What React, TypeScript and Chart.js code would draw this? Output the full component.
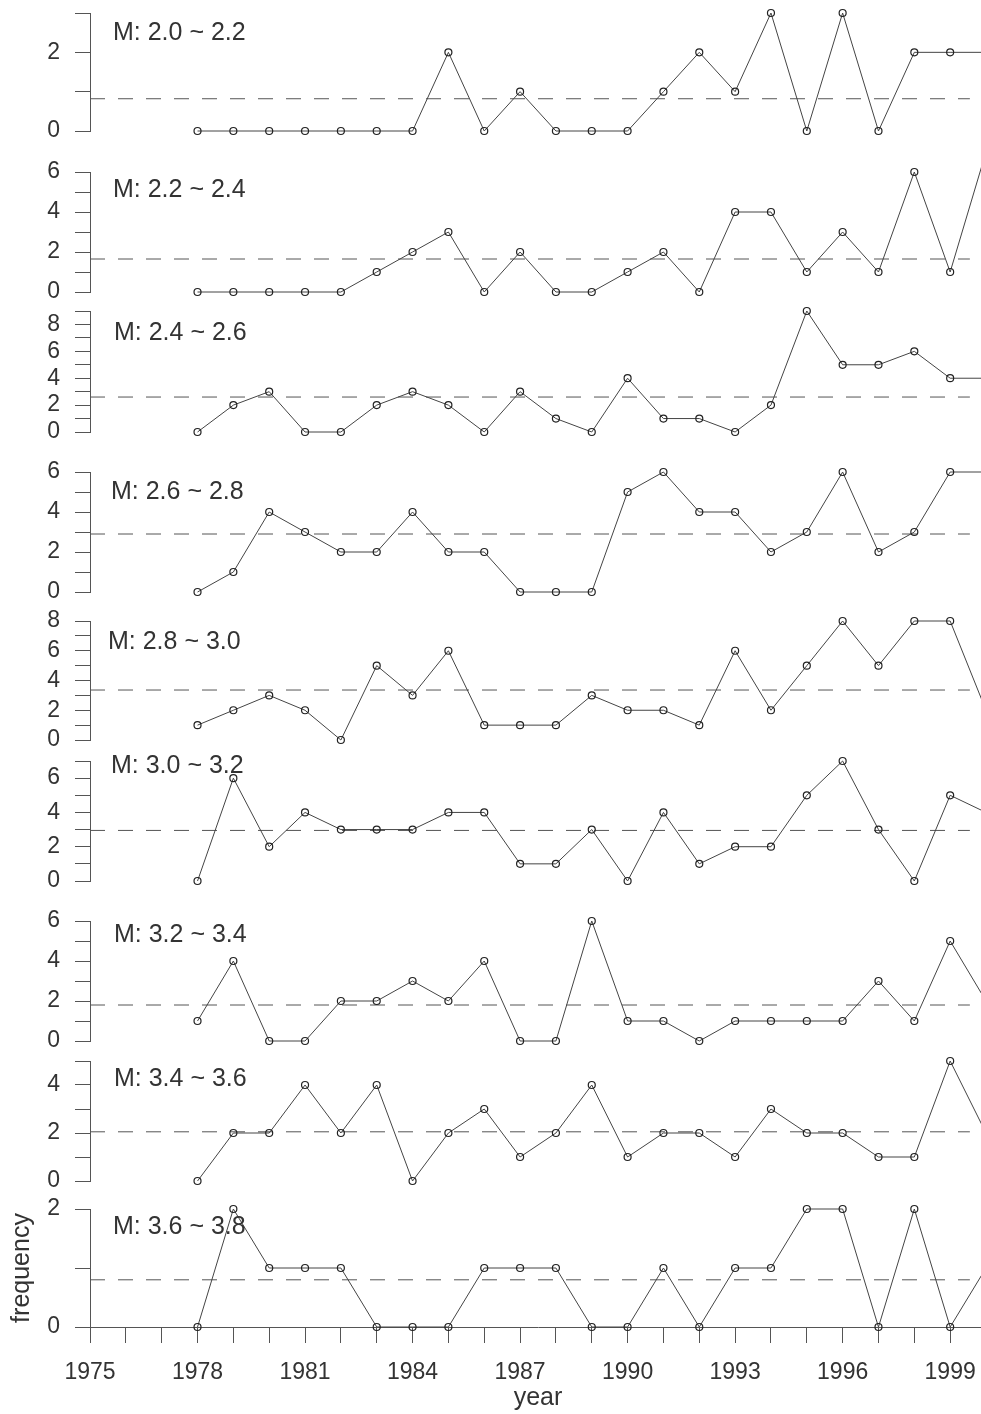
import React, { useEffect, useRef } from 'react';
import { Chart, registerables } from 'chart.js';

Chart.register(...registerables);

// ---------- data ----------
const YEARS = [1978, 1979, 1980, 1981, 1982, 1983, 1984, 1985, 1986, 1987, 1988, 1989, 1990, 1991, 1992, 1993, 1994, 1995, 1996, 1997, 1998, 1999, 2000];

const PANEL_LABELS = ['M: 2.0 ~ 2.2', 'M: 2.2 ~ 2.4', 'M: 2.4 ~ 2.6', 'M: 2.6 ~ 2.8', 'M: 2.8 ~ 3.0', 'M: 3.0 ~ 3.2', 'M: 3.2 ~ 3.4', 'M: 3.4 ~ 3.6', 'M: 3.6 ~ 3.8'];

const FREQ_M20_22 = [0, 0, 0, 0, 0, 0, 0, 2, 0, 1, 0, 0, 0, 1, 2, 1, 3, 0, 3, 0, 2, 2, 2];
const FREQ_M22_24 = [0, 0, 0, 0, 0, 1, 2, 3, 0, 2, 0, 0, 1, 2, 0, 4, 4, 1, 3, 1, 6, 1, 7];
const FREQ_M24_26 = [0, 2, 3, 0, 0, 2, 3, 2, 0, 3, 1, 0, 4, 1, 1, 0, 2, 9, 5, 5, 6, 4, 4];
const FREQ_M26_28 = [0, 1, 4, 3, 2, 2, 4, 2, 2, 0, 0, 0, 5, 6, 4, 4, 2, 3, 6, 2, 3, 6, 6];
const FREQ_M28_30 = [1, 2, 3, 2, 0, 5, 3, 6, 1, 1, 1, 3, 2, 2, 1, 6, 2, 5, 8, 5, 8, 8, 2];
const FREQ_M30_32 = [0, 6, 2, 4, 3, 3, 3, 4, 4, 1, 1, 3, 0, 4, 1, 2, 2, 5, 7, 3, 0, 5, 4];
const FREQ_M32_34 = [1, 4, 0, 0, 2, 2, 3, 2, 4, 0, 0, 6, 1, 1, 0, 1, 1, 1, 1, 3, 1, 5, 2];
const FREQ_M34_36 = [0, 2, 2, 4, 2, 4, 0, 2, 3, 1, 2, 4, 1, 2, 2, 1, 3, 2, 2, 1, 1, 5, 2];
const FREQ_M36_38 = [0, 2, 1, 1, 1, 0, 0, 0, 1, 1, 1, 0, 0, 1, 0, 1, 1, 2, 2, 0, 2, 0, 1];

const SERIES = [FREQ_M20_22, FREQ_M22_24, FREQ_M24_26, FREQ_M26_28, FREQ_M28_30, FREQ_M30_32, FREQ_M32_34, FREQ_M34_36, FREQ_M36_38];

// mean level (dashed reference line) of each panel
const MEANS = [0.82, 1.65, 2.6, 2.9, 3.36, 2.95, 1.8, 2.05, 0.8];
// y-axis maximum of each panel
const Y_MAX = [3, 6, 9, 6, 8, 7, 6, 5, 2];

const X_MIN = 1975;
const X_MAX = 2000;
const MEAN_LINE_START = 1975;
const MEAN_LINE_END = 1999.55;
const X_LABEL_STEP = 3;
const Y_LABEL_STEP = 2;

// ---------- layout (page pixels) ----------
const PANEL_BOX = [
  { top: 13, bottom: 131, lx: 23, ly: 20 },
  { top: 172, bottom: 292, lx: 23, ly: 18 },
  { top: 311, bottom: 432, lx: 24, ly: 22 },
  { top: 472, bottom: 592, lx: 21, ly: 20 },
  { top: 621, bottom: 740, lx: 18, ly: 21 },
  { top: 761, bottom: 881, lx: 21, ly: 5 },
  { top: 921, bottom: 1041, lx: 24, ly: 14 },
  { top: 1061, bottom: 1181, lx: 24, ly: 18 },
  { top: 1209, bottom: 1327, lx: 23, ly: 18 },
];

const PAGE_W = 981;
const PAGE_H = 1414;
const PLOT_RIGHT = 986;
const AXIS_W = 90;
const PAD_V = 30;
const PAD_R = 20;
const CANVAS_W = PLOT_RIGHT + PAD_R;
const X_AXIS_H = 87;

const FONT_FAMILY = '"Liberation Sans", Arial, Helvetica, sans-serif';
const TEXT_COLOR = '#333333';
const AXIS_COLOR = '#555555';
const LINE_COLOR = '#444444';

const panelLabelPlugin = {
  id: 'panelLabel',
  afterDatasetsDraw(chart: any, _args: any, opts: any) {
    const { ctx, chartArea } = chart;
    ctx.save();
    ctx.font = `25px ${FONT_FAMILY}`;
    ctx.fillStyle = TEXT_COLOR;
    ctx.textBaseline = 'middle';
    ctx.textAlign = 'left';
    ctx.fillText(opts.text, chartArea.left + opts.dx, chartArea.top + opts.dy);
    ctx.restore();
  },
};

function Panel({ index }: { index: number }) {
  const ref = useRef<HTMLCanvasElement | null>(null);
  const box = PANEL_BOX[index];
  const isLast = index === PANEL_BOX.length - 1;
  const plotH = box.bottom - box.top;
  const canvasTop = box.top - PAD_V;
  const canvasH = isLast ? PAD_V + plotH + X_AXIS_H : PAD_V + plotH + PAD_V;

  useEffect(() => {
    if (!ref.current) return;
    const values = SERIES[index];
    const chart = new Chart(ref.current, {
      type: 'line',
      data: {
        datasets: [
          {
            data: YEARS.map((x, i) => ({ x, y: values[i] })),
            borderColor: LINE_COLOR,
            borderWidth: 1,
            pointRadius: 3.5,
            pointBorderColor: '#222222',
            pointBackgroundColor: 'rgba(255,255,255,0)',
            pointBorderWidth: 1.2,
            tension: 0,
            clip: 6,
            order: 0,
          },
          {
            data: [
              { x: MEAN_LINE_START, y: MEANS[index] },
              { x: MEAN_LINE_END, y: MEANS[index] },
            ],
            borderColor: '#555555',
            borderWidth: 1,
            borderDash: [15, 13],
            pointRadius: 0,
            order: 1,
          },
        ],
      },
      options: {
        responsive: false,
        animation: false,
        devicePixelRatio: 1,
        events: [],
        layout: { padding: { top: PAD_V, bottom: isLast ? 0 : PAD_V, left: 0, right: PAD_R } },
        plugins: {
          legend: { display: false },
          tooltip: { enabled: false },
          panelLabel: { text: PANEL_LABELS[index], dx: box.lx, dy: box.ly },
        } as any,
        scales: {
          x: {
            type: 'linear',
            min: X_MIN,
            max: X_MAX,
            display: isLast,
            afterFit: (scale: any) => {
              if (isLast) scale.height = X_AXIS_H;
            },
            grid: {
              display: true,
              drawOnChartArea: false,
              drawTicks: true,
              tickLength: 16,
              color: AXIS_COLOR,
              lineWidth: 1,
            },
            border: { display: true, color: AXIS_COLOR, width: 1 },
            ticks: {
              stepSize: 1,
              autoSkip: false,
              maxRotation: 0,
              minRotation: 0,
              padding: 16,
              color: TEXT_COLOR,
              font: { family: FONT_FAMILY, size: 23 },
              callback: (v: any) => ((Number(v) - X_MIN) % X_LABEL_STEP === 0 ? String(v) : ''),
            },
            title: {
              display: true,
              text: 'year',
              color: TEXT_COLOR,
              font: { family: FONT_FAMILY, size: 25 },
              padding: { top: 0, bottom: 1 },
            },
          },
          y: {
            type: 'linear',
            min: 0,
            max: Y_MAX[index],
            afterFit: (scale: any) => {
              scale.width = AXIS_W;
            },
            grid: {
              display: true,
              drawOnChartArea: false,
              drawTicks: true,
              tickLength: 15,
              color: AXIS_COLOR,
              lineWidth: 1,
            },
            border: { display: true, color: AXIS_COLOR, width: 1 },
            ticks: {
              stepSize: 1,
              autoSkip: false,
              padding: 15,
              color: TEXT_COLOR,
              font: { family: FONT_FAMILY, size: 23 },
              callback: (v: any) => (Number(v) % Y_LABEL_STEP === 0 ? String(v) : ''),
            },
            title: {
              display: isLast,
              text: 'frequency',
              color: TEXT_COLOR,
              font: { family: FONT_FAMILY, size: 25 },
              padding: { top: 7, bottom: 0 },
            },
          },
        },
      },
      plugins: [panelLabelPlugin as any],
    });
    return () => chart.destroy();
  }, [index]);

  return (
    <canvas
      ref={ref}
      width={CANVAS_W}
      height={canvasH}
      style={{ position: 'absolute', left: 0, top: canvasTop, width: CANVAS_W, height: canvasH }}
    />
  );
}

export default function App() {
  return (
    <div
      style={{
        position: 'absolute',
        left: 0,
        top: 0,
        width: PAGE_W,
        height: PAGE_H,
        overflow: 'hidden',
        background: '#ffffff',
      }}
    >
      {PANEL_BOX.map((_, i) => (
        <Panel key={i} index={i} />
      ))}
    </div>
  );
}
